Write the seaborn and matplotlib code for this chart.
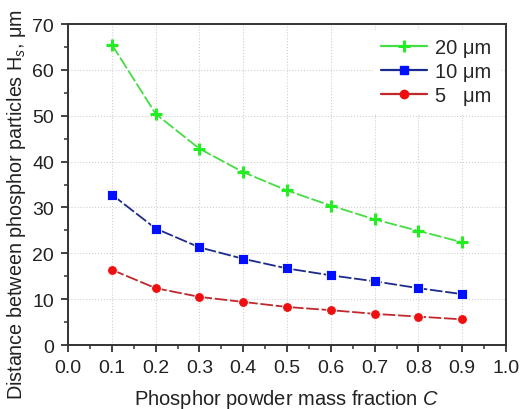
import matplotlib
matplotlib.use("Agg")
import matplotlib.pyplot as plt
from matplotlib.lines import Line2D
from matplotlib.ticker import MultipleLocator
import pandas as pd
import seaborn as sns

# data
mass_fraction = [0.1, 0.2, 0.3, 0.4, 0.5, 0.6, 0.7, 0.8, 0.9]
dist_20um = [65.5, 50.4, 42.8, 37.7, 33.7, 30.4, 27.4, 24.9, 22.4]
dist_10um = [32.8, 25.4, 21.3, 18.8, 16.7, 15.2, 13.9, 12.4, 11.1]
dist_5um = [16.4, 12.4, 10.5, 9.4, 8.3, 7.6, 6.8, 6.2, 5.6]
series_labels = ["20 μm", "10 μm", "5   μm"]

df = pd.concat(
    [
        pd.DataFrame({"C": mass_fraction, "Hs": vals, "size": lab})
        for vals, lab in zip([dist_20um, dist_10um, dist_5um], series_labels)
    ],
    ignore_index=True,
)

sns.set_style("ticks")
plt.rcParams["font.family"] = ["Liberation Sans", "DejaVu Sans"]
plt.rcParams["mathtext.fontset"] = "custom"
plt.rcParams["mathtext.rm"] = "Liberation Sans"
plt.rcParams["mathtext.it"] = "Liberation Sans:italic"

line_colors = {"20 μm": "#44dd44", "10 μm": "#1c2a8c", "5   μm": "#c0282c"}
marker_colors = {"20 μm": "#22ee22", "10 μm": "#0010ff", "5   μm": "#ee1010"}
markers = {"20 μm": "P", "10 μm": "s", "5   μm": "o"}

fig, ax = plt.subplots(figsize=(5.2, 4.1), dpi=100)

for lab in series_labels:
    sub = df[df["size"] == lab]
    sns.lineplot(
        data=sub, x="C", y="Hs", ax=ax, color=line_colors[lab], linewidth=1.3,
        dashes=False, legend=False,
    )
    ax.lines[-1].set_dashes([7, 1.5])
    if lab == "20 μm":
        ax.plot(sub["C"], sub["Hs"], linestyle="none", marker="+", markersize=9,
                markeredgewidth=2.2, color=marker_colors[lab])
    else:
        ax.plot(sub["C"], sub["Hs"], linestyle="none", marker=markers[lab],
                markersize=6.5 if lab == "10 μm" else 7, markerfacecolor=marker_colors[lab],
                markeredgecolor="white", markeredgewidth=0.6)

ax.set_xlim(0, 1.0)
ax.set_ylim(0, 70)
ax.xaxis.set_major_locator(MultipleLocator(0.1))
ax.xaxis.set_minor_locator(MultipleLocator(0.05))
ax.yaxis.set_major_locator(MultipleLocator(10))
ax.yaxis.set_minor_locator(MultipleLocator(5))
ax.xaxis.set_major_formatter(plt.FuncFormatter(lambda v, p: f"{v:.1f}"))
ax.tick_params(which="major", direction="out", length=5, width=1.3, labelsize=14,
               colors="#333333", labelcolor="#222222", pad=5)
ax.tick_params(which="minor", direction="out", length=3, width=1.1, colors="#333333")
ax.grid(True, which="major", color="#d0d0d0", linestyle=":", linewidth=0.8)
for s in ax.spines.values():
    s.set_linewidth(1.4)
    s.set_color("#333333")

ax.set_xlabel("Phosphor powder mass fraction $\\mathit{C}$", fontsize=14.5, labelpad=8,
              color="#222222")
ax.set_ylabel("Distance between phosphor particles H$_s$, μm", fontsize=14.2,
              color="#222222")
ax.yaxis.set_label_coords(-0.092, 0.44)

# legend handles with markers
handles = []
for lab in series_labels:
    if lab == "20 μm":
        h = Line2D([], [], color=line_colors[lab], linewidth=1.6, marker="+", markersize=9,
                   markeredgewidth=2.2, markeredgecolor=marker_colors[lab])
    else:
        h = Line2D([], [], color=line_colors[lab], linewidth=1.6, marker=markers[lab], markersize=6,
                   markerfacecolor=marker_colors[lab], markeredgecolor=marker_colors[lab])
    handles.append(h)
leg = ax.legend(handles, series_labels, loc="upper right", frameon=True, fontsize=14.5,
                handlelength=2.3, handletextpad=0.4, labelspacing=0.25, borderaxespad=0.3)
leg.get_frame().set_edgecolor("white")
leg.get_frame().set_alpha(1)

fig.subplots_adjust(left=0.131, right=0.973, bottom=0.156, top=0.939)
fig.savefig("out.png", dpi=100)
